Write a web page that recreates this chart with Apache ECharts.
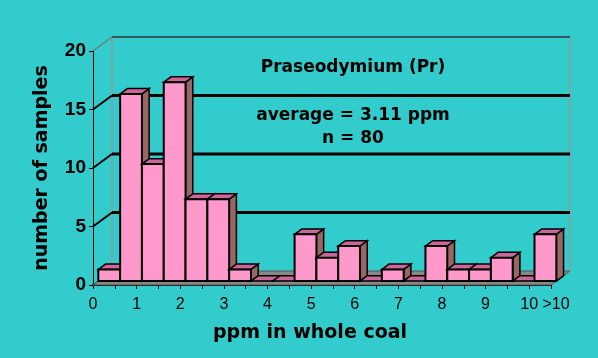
<!DOCTYPE html>
<html><head><meta charset="utf-8">
<script src="https://cdn.jsdelivr.net/npm/echarts@6/dist/echarts.min.js"></script>
<style>html,body{margin:0;padding:0;background:#33CCCC;}#c{width:598px;height:358px;}</style>
</head><body><div id="c"></div>
<script>
// bins of 0.5 ppm; last bin is ">10"
const binStarts = [0,0.5,1,1.5,2,2.5,3,3.5,4,4.5,5,5.5,6,6.5,7,7.5,8,8.5,9,9.5,10];
const counts    = [1,16,10,17,7,7,1,0,0,4,2,3,0,1,0,3,1,1,2,0,4];
const yTicks = [0,5,10,15,20];
const xTickLabels = {0:'0',1:'1',2:'2',3:'3',4:'4',5:'5',6:'6',7:'7',8:'8',9:'9',10:'10',10.5:'>10'};
const titleLines = ['Praseodymium (Pr)', 'average = 3.11 ppm', 'n = 80'];
const xTitle = 'ppm in whole coal';
const yTitle = 'number of samples';

const DX = 19, DY = -14;       // full depth offset of back wall
const FR = 0.28, BK = 0.66;    // bar depth range (fraction)

const chart = echarts.init(document.getElementById('c'));
const FONT = 'Liberation Sans, Arial, sans-serif';
const WFONT = '"DejaVu Sans", sans-serif';

function frameRender(params, api) {
  const o = api.coord([0, 0]);
  const e = api.coord([10.5, 0]);
  const children = [];
  children.push({type:'polygon', shape:{points:[[o[0],o[1]],[e[0],e[1]],[e[0]+DX,e[1]+DY],[o[0]+DX,o[1]+DY]]},
    style:{fill:'#888888', stroke:'#555555', lineWidth:1}});
  const top = api.coord([0, 20]);
  children.push({type:'line', shape:{x1:o[0]+DX,y1:o[1]+DY,x2:top[0]+DX,y2:top[1]+DY}, style:{stroke:'#999999', lineWidth:1.5}});
  children.push({type:'line', shape:{x1:e[0]+DX,y1:e[1]+DY,x2:e[0]+DX,y2:top[1]+DY}, style:{stroke:'#999999', lineWidth:1.5}});
  children.push({type:'line', shape:{x1:top[0]+DX,y1:top[1]+DY,x2:e[0]+DX,y2:top[1]+DY}, style:{stroke:'#333333', lineWidth:1.5}});
  children.push({type:'line', shape:{x1:top[0],y1:top[1],x2:top[0]+DX,y2:top[1]+DY}, style:{stroke:'#777777', lineWidth:1.2}});
  children.push({type:'line', shape:{x1:o[0],y1:o[1],x2:o[0]+DX,y2:o[1]+DY}, style:{stroke:'#555555', lineWidth:1}});
  yTicks.forEach(function(t){
    if (t === 0 || t === 20) return;
    const p = api.coord([0, t]);
    children.push({type:'line', shape:{x1:p[0]+DX,y1:p[1]+DY,x2:e[0]+DX,y2:p[1]+DY}, style:{stroke:'#000', lineWidth:3}});
    children.push({type:'line', shape:{x1:p[0],y1:p[1],x2:p[0]+DX,y2:p[1]+DY}, style:{stroke:'#000', lineWidth:2}});
  });
  return {type:'group', children:children};
}

function barRender(params, api) {
  const x0 = api.value(0), v = api.value(1);
  const p0 = api.coord([x0, 0]);
  const p1 = api.coord([x0 + 0.5, v]);
  const fx = FR*DX, fy = FR*DY;
  const dx = (BK-FR)*DX, dy = (BK-FR)*DY;
  const L = p0[0]+fx, R = p1[0]+fx, B = p0[1]+fy, T = p1[1]+fy;
  const children = [];
  if (v > 0) {
    children.push({type:'polygon', shape:{points:[[R,B],[R+dx,B+dy],[R+dx,T+dy],[R,T]]},
      style:{fill:'#996666', stroke:'#000', lineWidth:1.5}});
  }
  children.push({type:'polygon', shape:{points:[[L,T],[R,T],[R+dx,T+dy],[L+dx,T+dy]]},
    style:{fill:'#CC6699', stroke:'#000', lineWidth:1.5}});
  if (v > 0) {
    children.push({type:'polygon', shape:{points:[[L,B],[R,B],[R,T],[L,T]]},
      style:{fill:'#FF99CC', stroke:'#000', lineWidth:2}});
  }
  return {type:'group', children:children};
}

chart.setOption({
  backgroundColor:'#33CCCC',
  animation:false,
  grid:{left:93, top:51, width:458, height:234},
  xAxis:{type:'value', min:0, max:10.5, interval:0.5,
    axisLine:{show:true, lineStyle:{color:'#000', width:2}},
    axisTick:{show:true, length:4, lineStyle:{color:'#000', width:1}},
    splitLine:{show:false},
    axisLabel:{show:true, showMinLabel:true, showMaxLabel:true, margin:12, color:'#000', fontFamily:FONT, fontSize:16,
      formatter:function(v){ const k = Math.round(v*2)/2; if (k === 10.5) return '{g|>10}'; return xTickLabels[k] !== undefined ? xTickLabels[k] : ''; },
      rich:{g:{fontFamily:FONT, fontSize:16, color:'#000', padding:[0,0,0,10]}}}
  },
  yAxis:{type:'value', min:0, max:20, interval:5,
    axisLine:{show:true, lineStyle:{color:'#000', width:1}},
    axisTick:{show:true, length:4, lineStyle:{color:'#000', width:1}},
    splitLine:{show:false},
    axisLabel:{margin:7, color:'#000', fontFamily:FONT, fontSize:19, fontWeight:'bold'}
  },
  graphic:[
    {type:'text', position:[353,68], style:{text:titleLines[0], textAlign:'center', textVerticalAlign:'middle', font:'bold 17px '+WFONT, fill:'#000'}},
    {type:'text', position:[353,116], style:{text:titleLines[1], textAlign:'center', textVerticalAlign:'middle', font:'bold 17px '+WFONT, fill:'#000'}},
    {type:'text', position:[353,139], style:{text:titleLines[2], textAlign:'center', textVerticalAlign:'middle', font:'bold 17px '+WFONT, fill:'#000'}},
    {type:'text', position:[310,333], style:{text:xTitle, textAlign:'center', textVerticalAlign:'middle', font:'bold 19px '+WFONT, fill:'#000'}},
    {type:'text', position:[42,168], rotation:Math.PI/2, style:{text:yTitle, textAlign:'center', textVerticalAlign:'middle', font:'bold 19px '+WFONT, fill:'#000'}}
  ],
  series:[
    {type:'custom', renderItem:frameRender, data:[[0,0]], z:1, silent:true},
    {type:'custom', renderItem:barRender, data:binStarts.map(function(b,i){return [b, counts[i]];}), z:2, silent:true}
  ]
});
</script></body></html>
